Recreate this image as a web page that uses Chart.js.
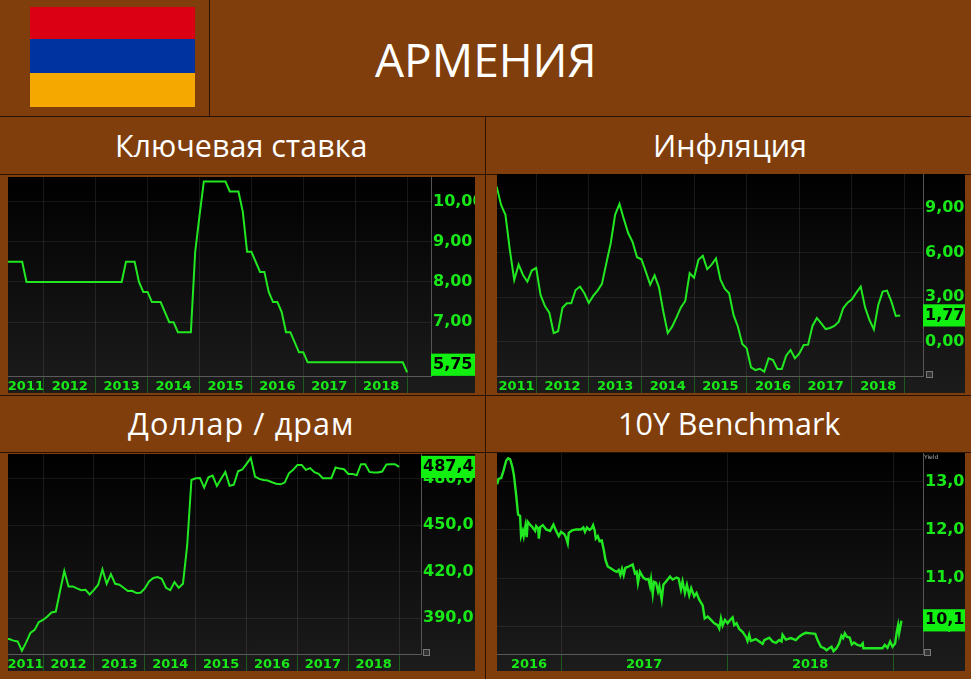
<!DOCTYPE html>
<html lang="ru">
<head>
<meta charset="utf-8">
<title>Армения</title>
<script src="https://cdn.jsdelivr.net/npm/chart.js@4/dist/chart.umd.min.js"></script>
<style>
    html, body { margin: 0; padding: 0; width: 971px; height: 679px; overflow: hidden; background: #803e0c; }
    body { position: relative; font-family: "Open Sans", "Noto Sans", sans-serif; color: #fff; }
    .rule { position: absolute; background: #2a1203; }
    .band { position: absolute; left: 30px; width: 165px; }
    .title { position: absolute; white-space: nowrap; line-height: 1; }
    canvas { position: absolute; display: block; background: linear-gradient(#000, #1c1c1c); }
    .mark { position: absolute; width: 5px; height: 5px; border: 1px solid #777; background: #333; }
    .yield { position: absolute; left: 924px; top: 453px; font: 6px "DejaVu Sans", sans-serif; color: #aaa; }
</style>
</head>
<body>
<div class="band" style="top:7px;height:32px;background:#dc0014"></div>
<div class="band" style="top:39px;height:34px;background:#0033a0"></div>
<div class="band" style="top:73px;height:34px;background:#f5a800"></div>

<div class="rule" style="left:209px;top:0;width:1px;height:116px"></div>
<div class="rule" style="left:0;top:116px;width:971px;height:1px"></div>
<div class="rule" style="left:0;top:174px;width:971px;height:1px"></div>
<div class="rule" style="left:0;top:395px;width:971px;height:1px"></div>
<div class="rule" style="left:0;top:452px;width:971px;height:1px"></div>
<div class="rule" style="left:485px;top:116px;width:1px;height:563px"></div>

<div class="title" style="left:375px;top:36px;font-size:46px">АРМЕНИЯ</div>
<div class="title" style="left:115px;top:130px;font-size:30.5px">Ключевая ставка</div>
<div class="title" style="left:653px;top:130px;font-size:30.5px">Инфляция</div>
<div class="title" style="left:128px;top:408px;font-size:30.5px;letter-spacing:1.1px">Доллар / драм</div>
<div class="title" style="left:618px;top:408px;font-size:30.5px">10Y Benchmark</div>

<canvas id="rateChart" style="left:8px;top:177px" width="467" height="216"></canvas>
<canvas id="inflationChart" style="left:497px;top:174px" width="468" height="219"></canvas>
<canvas id="dollarChart" style="left:8px;top:454px" width="467" height="217"></canvas>
<canvas id="benchmarkChart" style="left:497px;top:453px" width="468" height="218"></canvas>

<div class="mark" style="left:926px;top:371px"></div>
<div class="mark" style="left:423px;top:649px"></div>
<div class="mark" style="left:924px;top:649px"></div>
<div class="yield">Yield</div>

<script>
const rateDates = ['2011-04', '2011-08', '2011-09', '2013-07', '2013-08', '2013-10', '2013-11', '2013-12',
    '2014-01', '2014-02', '2014-04', '2014-06', '2014-07', '2014-08', '2014-11', '2014-12',
    '2015-01', '2015-02', '2015-07', '2015-08', '2015-10', '2015-11', '2015-12',
    '2016-01', '2016-03', '2016-04', '2016-05', '2016-06', '2016-07', '2016-08', '2016-09', '2016-10', '2016-12',
    '2017-01', '2017-02', '2018-12', '2019-01'];
const rateValues = [8.5, 8.5, 8, 8, 8.5, 8.5, 8, 7.75,
    7.75, 7.5, 7.5, 7, 7, 6.75, 6.75, 8.75,
    9.65, 10.5, 10.5, 10.25, 10.25, 9.75, 8.75,
    8.75, 8.25, 8.25, 7.75, 7.5, 7.5, 7.25, 6.75, 6.75, 6.25,
    6.25, 6, 6, 5.75];
const rateTicks = [7, 8, 9, 10];
const rateTickLabels = ['7,00', '8,00', '9,00', '10,00'];

const inflationDates = ['2011-04', '2011-05', '2011-06', '2011-07', '2011-08', '2011-09', '2011-10', '2011-11', '2011-12',
    '2012-01', '2012-02', '2012-03', '2012-04', '2012-05', '2012-06', '2012-07', '2012-08', '2012-09', '2012-10', '2012-11', '2012-12',
    '2013-01', '2013-02', '2013-03', '2013-04', '2013-05', '2013-06', '2013-07', '2013-08', '2013-09', '2013-10', '2013-11', '2013-12',
    '2014-01', '2014-02', '2014-03', '2014-04', '2014-05', '2014-06', '2014-07', '2014-08', '2014-09', '2014-10', '2014-11', '2014-12',
    '2015-01', '2015-02', '2015-03', '2015-04', '2015-05', '2015-06', '2015-07', '2015-08', '2015-09', '2015-10', '2015-11', '2015-12',
    '2016-01', '2016-02', '2016-03', '2016-04', '2016-05', '2016-06', '2016-07', '2016-08', '2016-09', '2016-10', '2016-11', '2016-12',
    '2017-01', '2017-02', '2017-03', '2017-04', '2017-05', '2017-06', '2017-07', '2017-08', '2017-09', '2017-10', '2017-11', '2017-12',
    '2018-01', '2018-02', '2018-03', '2018-04', '2018-05', '2018-06', '2018-07', '2018-08', '2018-09', '2018-10', '2018-11', '2018-12'];
const inflationValues = [10.45, 9.21, 8.54, 6.18, 4.16, 5.19, 4.49, 4.04, 4.79,
    4.97, 3.15, 2.40, 1.96, 0.58, 0.70, 2.29, 2.58, 2.58, 3.48, 3.71, 3.26,
    2.61, 3.08, 3.44, 3.89, 5.28, 6.63, 8.54, 9.28, 8.25, 7.30, 6.70, 5.69,
    5.55, 4.72, 3.84, 4.47, 3.66, 2.02, 0.58, 1.01, 1.64, 2.31, 2.74, 4.61,
    4.31, 5.51, 5.78, 4.88, 5.19, 5.60, 4.20, 3.57, 3.26, 1.80, 1.01, -0.16,
    -0.45, -1.73, -1.91, -1.82, -2.02, -1.12, -1.24, -1.84, -1.84, -0.94, -0.56, -1.12,
    -0.79, -0.22, -0.20, 1.06, 1.60, 1.24, 0.85, 0.92, 1.06, 1.35, 2.25, 2.63,
    2.85, 3.30, 3.71, 2.31, 1.46, 0.83, 2.47, 3.37, 3.44, 2.70, 1.73, 1.77];
const inflationTicks = [0, 3, 6, 9];
const inflationTickLabels = ['0,00', '3,00', '6,00', '9,00'];

const dollarDates = ['2011-04', '2011-05', '2011-06', '2011-07', '2011-08', '2011-09', '2011-10', '2011-11', '2011-12',
    '2012-01', '2012-02', '2012-03', '2012-04', '2012-05', '2012-06', '2012-07', '2012-08', '2012-09', '2012-10', '2012-11', '2012-12',
    '2013-01', '2013-02', '2013-03', '2013-04', '2013-05', '2013-06', '2013-07', '2013-08', '2013-09', '2013-10', '2013-11', '2013-12',
    '2014-01', '2014-02', '2014-03', '2014-04', '2014-05', '2014-06', '2014-07', '2014-08', '2014-09', '2014-10', '2014-11', '2014-12',
    '2015-01', '2015-02', '2015-03', '2015-04', '2015-05', '2015-06', '2015-07', '2015-08', '2015-09', '2015-10', '2015-11', '2015-12',
    '2016-01', '2016-02', '2016-03', '2016-04', '2016-05', '2016-06', '2016-07', '2016-08', '2016-09', '2016-10', '2016-11', '2016-12',
    '2017-01', '2017-02', '2017-03', '2017-04', '2017-05', '2017-06', '2017-07', '2017-08', '2017-09', '2017-10', '2017-11', '2017-12',
    '2018-01', '2018-02', '2018-03', '2018-04', '2018-05', '2018-06', '2018-07', '2018-08', '2018-09', '2018-10', '2018-11', '2018-12',
    '2019-01'];
const dollarValues = [376.8, 376.6, 375.6, 375.1, 369.1, 374.5, 380.5, 382.5, 387.6,
    388.9, 391.1, 393.7, 394.3, 407.5, 420.4, 410.5, 410.5, 409.2, 408.1, 408.3, 405.3,
    408.3, 411.6, 421.5, 412.2, 418.4, 412.2, 411.6, 409.6, 407.5, 407.7, 406.2, 406.4,
    409.2, 413.7, 415.9, 416.5, 415.4, 409.6, 408.1, 413.3, 409.6, 412.2, 437.0, 479.0,
    480.1, 480.3, 474.1, 480.7, 481.8, 475.1, 479.7, 484.2, 475.3, 476.0, 484.6, 485.7,
    489.4, 493.2, 481.2, 479.7, 479.0, 478.6, 477.5, 476.6, 476.2, 477.3, 483.3, 485.5,
    488.7, 488.7, 485.5, 486.6, 484.0, 482.9, 480.1, 480.1, 480.1, 487.0, 486.3, 485.9,
    482.9, 482.9, 482.0, 489.1, 489.1, 484.2, 483.8, 483.8, 484.4, 488.9, 489.1, 489.1,
    487.4];
const dollarTicks = [390, 420, 450, 480];
const dollarTickLabels = ['390,0', '420,0', '450,0', '480,0'];

const benchmarkDates = [2016.615, 2016.623, 2016.639, 2016.653, 2016.669, 2016.681, 2016.693, 2016.705, 2016.715, 2016.729,
    2016.741, 2016.753, 2016.759, 2016.769, 2016.775, 2016.785, 2016.793, 2016.799, 2016.813, 2016.829,
    2016.844, 2016.850, 2016.862, 2016.866, 2016.874, 2016.890, 2016.910, 2016.934, 2016.954, 2016.970, 2016.986,
    2017.000, 2017.020, 2017.030, 2017.040, 2017.046, 2017.066, 2017.090, 2017.120, 2017.134, 2017.144,
    2017.156, 2017.171, 2017.183, 2017.193, 2017.203, 2017.209, 2017.221, 2017.231, 2017.245, 2017.257,
    2017.267, 2017.281, 2017.301, 2017.321, 2017.335, 2017.347, 2017.357, 2017.367, 2017.377, 2017.387,
    2017.407, 2017.431, 2017.445, 2017.455, 2017.463, 2017.475, 2017.495, 2017.512, 2017.526, 2017.536,
    2017.542, 2017.552, 2017.560, 2017.572, 2017.584, 2017.592, 2017.606, 2017.616, 2017.642, 2017.656,
    2017.672, 2017.696, 2017.708, 2017.722, 2017.732, 2017.746, 2017.758, 2017.772, 2017.784, 2017.802,
    2017.816, 2017.832, 2017.853, 2017.865, 2017.883, 2017.903, 2017.923, 2017.943, 2017.953, 2017.963, 2017.973, 2017.987,
    2018.003, 2018.019, 2018.033, 2018.043, 2018.057, 2018.073, 2018.093, 2018.113, 2018.123, 2018.133,
    2018.143, 2018.173, 2018.194, 2018.214, 2018.224, 2018.254, 2018.274, 2018.294, 2018.314, 2018.328,
    2018.334, 2018.354, 2018.384, 2018.414, 2018.434, 2018.454, 2018.474, 2018.504, 2018.531, 2018.545,
    2018.565, 2018.585, 2018.599, 2018.615, 2018.629, 2018.641, 2018.659, 2018.675, 2018.689, 2018.699,
    2018.709, 2018.721, 2018.739, 2018.751, 2018.765, 2018.785, 2018.805, 2018.817, 2018.821, 2018.936,
    2018.950, 2018.966, 2018.982, 2018.996, 2019.012, 2019.022, 2019.030, 2019.036, 2019.050];
const benchmarkValues = [12.95, 13.06, 13.08, 13.23, 13.44, 13.49, 13.47, 13.33, 13.16, 12.74,
    12.32, 12.29, 11.87, 11.98, 11.87, 12.08, 11.85, 12.17, 12.11, 12.05,
    11.98, 12.08, 12.03, 11.82, 12.06, 12.10, 12.01, 11.98, 12.11, 11.98, 11.87,
    11.96, 11.91, 11.84, 11.72, 11.94, 11.99, 12.01, 12.01, 12.05, 11.96,
    12.05, 12.00, 12.03, 12.10, 11.98, 11.82, 11.87, 11.77, 11.78, 11.59,
    11.38, 11.24, 11.20, 11.15, 11.13, 11.17, 11.06, 11.19, 11.06, 11.21,
    11.24, 11.28, 11.10, 11.13, 10.90, 11.13, 11.01, 10.97, 10.98, 10.83,
    10.97, 10.67, 10.92, 10.90, 10.72, 10.83, 10.55, 10.86, 10.97, 11.03,
    10.97, 11.01, 10.99, 10.76, 10.93, 10.69, 10.86, 10.64, 10.79, 10.62,
    10.69, 10.55, 10.43, 10.16, 10.20, 10.13, 10.06, 10.02, 9.95, 10.16, 10.01, 10.13,
    10.06, 10.13, 10.18, 10.02, 10.06, 9.94, 9.88, 9.78, 9.69, 9.82,
    9.69, 9.73, 9.68, 9.63, 9.71, 9.76, 9.68, 9.65, 9.71, 9.68,
    9.82, 9.72, 9.75, 9.71, 9.78, 9.83, 9.86, 9.85, 9.84, 9.71,
    9.57, 9.54, 9.50, 9.54, 9.57, 9.48, 9.54, 9.64, 9.80, 9.75,
    9.85, 9.78, 9.76, 9.62, 9.66, 9.61, 9.59, 9.64, 9.54, 9.54,
    9.61, 9.55, 9.68, 9.57, 9.64, 9.88, 10.02, 9.85, 10.11];
const benchmarkTicks = [10, 11, 12, 13];
const benchmarkTickLabels = ['10,0', '11,0', '12,0', '13,0'];

const longYears = [2011, 2012, 2013, 2014, 2015, 2016, 2017, 2018];
const shortYears = [2016, 2017, 2018];

const GREEN = '#18e818';
const TAG_GREEN = '#12f012';

function toYear(month) {
    const parts = month.split('-');
    return Number(parts[0]) + (Number(parts[1]) - 1) / 12;
}

function drawPanel(id, p) {
    const canvas = document.getElementById(id);
    new Chart(canvas, {
        type: 'line',
        data: {
            datasets: [{
                data: p.dates.map((d, i) => ({ x: d, y: p.values[i] })),
                borderColor: '#22e822',
                borderWidth: p.lineWidth || 2,
                pointRadius: 0,
                tension: 0
            }]
        },
        options: {
            responsive: false,
            animation: false,
            layout: { padding: 0, autoPadding: false },
            plugins: { legend: { display: false }, tooltip: { enabled: false } },
            scales: {
                x: {
                    type: 'linear',
                    min: p.xMin,
                    max: p.xMax,
                    afterFit: (scale) => {
                        scale.height = 17;
                        scale.paddingLeft = 0;
                        scale.paddingRight = 0;
                    },
                    // year boundaries carry the lines, the middle of each year carries the label
                    afterBuildTicks: (scale) => {
                        const ticks = [];
                        p.years.forEach((y) => {
                            const from = Math.max(y, p.xMin);
                            const to = Math.min(y + 1, p.xMax);
                            ticks.push({ value: (from + to) / 2, text: String(y) });
                            if (y + 1 < p.xMax) ticks.push({ value: y + 1, text: '' });
                        });
                        scale.ticks = ticks;
                    },
                    grid: {
                        color: (ctx) => (ctx.tick && ctx.tick.text ? 'transparent' : 'rgba(255,255,255,0.09)'),
                        tickColor: (ctx) => (ctx.tick && ctx.tick.text ? 'transparent' : '#1d5a1d'),
                        tickLength: 17
                    },
                    // dash is for the axis line only, border.dash would also reach the grid lines
                    border: { color: '#5a5a5a', dash: (ctx) => (ctx.tick ? [] : [2, 2]) },
                    ticks: {
                        autoSkip: false,
                        maxRotation: 0,
                        padding: -14,
                        color: GREEN,
                        font: { family: 'DejaVu Sans', weight: 'bold', size: 13 },
                        callback: (value, index, ticks) => ticks[index].text
                    }
                },
                y: {
                    position: 'right',
                    min: p.yMin,
                    max: p.yMax,
                    afterFit: (scale) => {
                        scale.width = p.axisWidth;
                        scale.paddingTop = 0;
                        scale.paddingBottom = 0;
                    },
                    // the last value sits on the axis as a green tag, drawn after the round ticks
                    afterBuildTicks: (scale) => {
                        const ticks = p.ticks.map((v, i) => ({ value: v, text: p.tickLabels[i] }));
                        ticks.push({ value: p.tagAt, text: p.tagLabel, tag: true });
                        scale.ticks = ticks;
                    },
                    grid: {
                        color: (ctx) => (ctx.tick && ctx.tick.tag ? 'transparent' : 'rgba(255,255,255,0.07)'),
                        drawTicks: false
                    },
                    border: { color: '#555' },
                    ticks: {
                        autoSkip: false,
                        padding: 2,
                        crossAlign: 'near',
                        font: { family: 'DejaVu Sans', weight: 'bold', size: 16 },
                        color: (ctx) => (ctx.tick && ctx.tick.tag ? '#000' : GREEN),
                        showLabelBackdrop: (ctx) => !!(ctx.tick && ctx.tick.tag),
                        backdropColor: TAG_GREEN,
                        backdropPadding: { left: 2, right: 30, top: 1.5, bottom: 1.5 },
                        callback: (value, index, ticks) => ticks[index].text
                    }
                }
            }
        }
    });
}

drawPanel('rateChart', {
    dates: rateDates.map(toYear), values: rateValues, ticks: rateTicks, tickLabels: rateTickLabels, years: longYears,
    xMin: 2011.31, xMax: 2019.46, yMin: 5.66, yMax: 10.61, axisWidth: 44, tagAt: 5.94, tagLabel: '5,75'
});
drawPanel('inflationChart', {
    dates: inflationDates.map(toYear), values: inflationValues, ticks: inflationTicks, tickLabels: inflationTickLabels, years: longYears,
    xMin: 2011.256, xMax: 2019.35, yMin: -2.31, yMax: 11.29, axisWidth: 42, tagAt: 1.77, tagLabel: '1,77'
});
drawPanel('dollarChart', {
    dates: dollarDates.map(toYear), values: dollarValues, ticks: dollarTicks, tickLabels: dollarTickLabels, years: longYears,
    xMin: 2011.31, xMax: 2019.43, yMin: 367, yMax: 495.7, axisWidth: 54, tagAt: 487.4, tagLabel: '487,4'
});
drawPanel('benchmarkChart', {
    dates: benchmarkDates, values: benchmarkValues, ticks: benchmarkTicks, tickLabels: benchmarkTickLabels, years: shortYears,
    xMin: 2016.614, xMax: 2019.18, yMin: 9.42, yMax: 13.6, axisWidth: 42, tagAt: 10.12, tagLabel: '10,1', lineWidth: 2.4
});
</script>
</body>
</html>
